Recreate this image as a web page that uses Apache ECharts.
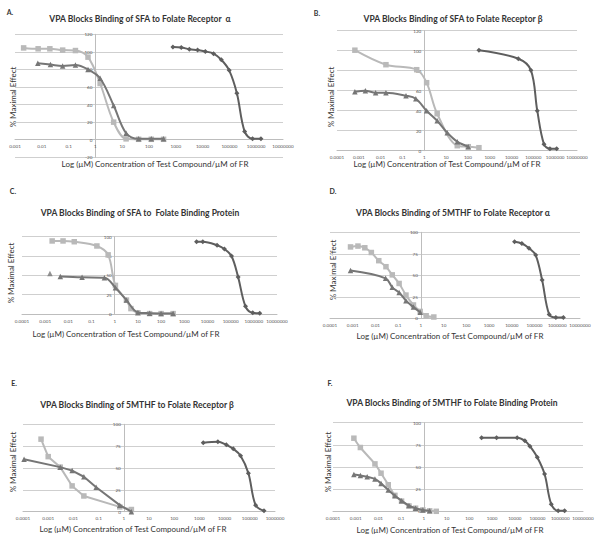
<!DOCTYPE html>
<html><head><meta charset="utf-8">
<script src="https://cdn.jsdelivr.net/npm/echarts@6/dist/echarts.min.js"></script>
<style>html,body{margin:0;padding:0;background:#fff}#c{width:600px;height:538px}</style>
</head><body><div id="c"></div>
<script>
// ---------- DATA ----------
// Panel A
const aSquareX = [0.0021, 0.0073, 0.02, 0.06, 0.18, 0.53, 1.5, 4.8, 14, 41, 122, 350];
const aSquareY = [104.5, 103.5, 103.5, 102, 101.5, 94, 64, 20, 1, 0.5, 0.5, 0.5];
const aTriX = [0.0071, 0.021, 0.06, 0.18, 0.53, 1.5, 4.8, 14, 41, 122, 350];
const aTriY = [87, 85.5, 84, 85, 80, 70, 39, 7.5, 1, 1, 1];
const aDiaX = [780, 1600, 3200, 6500, 12600, 25700, 50000, 98000, 190000, 370000, 730000, 1500000];
const aDiaY = [105.5, 105, 103, 102, 100.5, 98, 91, 79, 53, 9.5, 1, 1];
// Panel B
const bSquareX = [0.00066, 0.0175, 0.45, 1.28, 3.9, 32.5, 104, 320];
const bSquareY = [100.5, 86, 81, 68, 37, 5, 4, 3];
const bTriX = [0.00066, 0.002, 0.0059, 0.0175, 0.145, 0.41, 1.28, 3.9, 11.3, 32.5, 104];
const bTriY = [59, 60, 58, 58, 55, 52, 40, 30, 18, 9, 4];
const bDiaX = [320, 20400, 77000, 151000, 307000, 575000, 1170000];
const bDiaY = [100.5, 92, 80.5, 40, 6.5, 2, 2];
// Panel C
const cSquareX = [0.002, 0.0059, 0.018, 0.17, 0.52, 1.07, 3.2, 5, 10, 32, 100, 330];
const cSquareY = [94.5, 94.5, 93.5, 88, 76.5, 37, 18, 7, 1.5, 0.5, 0.5, 0.5];
const cTriLoneX = [0.0016];
const cTriLoneY = [52.5];
const cTriX = [0.0045, 0.039, 0.36, 1.07, 3.2, 10, 32, 100, 330];
const cTriY = [48.5, 47.5, 47, 34, 18, 2, 1, 0.5, 0.5];
const cDiaX = [3400, 6300, 26000, 54000, 109000, 210000, 437000, 900000, 1800000];
const cDiaY = [93.5, 93.5, 89, 84, 75, 48, 10, 1.5, 1];
// Panel D
const dSquareX = [0.0008, 0.0017, 0.0034, 0.0066, 0.014, 0.029, 0.055, 0.11, 0.22, 0.47, 0.93, 1.7, 3.7];
const dSquareY = [83, 84, 82, 76.5, 67, 60, 50.5, 40.5, 27, 15.5, 8, 3, 1.5];
const dTriX = [0.0008, 0.028, 0.055, 0.11, 0.22, 0.47, 0.93];
const dTriY = [55.5, 46.5, 36, 30, 20.5, 13, 7];
const dDiaX = [13200, 27700, 57000, 112000, 215000, 440000, 870000, 1860000];
const dDiaY = [89, 87, 81.5, 73.5, 44.5, 4.5, 1, 1];
// Panel E
const eSquareX = [0.00052, 0.001, 0.003, 0.0089, 0.026, 0.69, 2.0];
const eSquareY = [83, 63, 51, 29.5, 18, 5.5, 2.5];
const eTriX = [0.00011, 0.003, 0.0089, 0.026, 0.08, 0.69, 2.0];
const eTriY = [60, 51, 47, 40, 28, 7.5, 0];
const eDiaX = [1420, 5400, 11700, 22000, 43000, 88000, 170000, 366000];
const eDiaY = [79, 80, 76.5, 72, 64, 44, 7.5, 1];
// Panel F
const fSquareX = [0.00083, 0.0016, 0.007, 0.013, 0.027, 0.053, 0.104, 0.22, 0.43, 0.9, 1.8, 3.5];
const fSquareY = [82.5, 72, 53.5, 43, 30, 18, 11.5, 6, 3.5, 1.5, 0.5, 0];
const fTriX = [0.00083, 0.0016, 0.0032, 0.007, 0.013, 0.027, 0.053, 0.104, 0.22, 0.43, 0.9, 1.8];
const fTriY = [41.5, 40.5, 39, 36.5, 31.5, 24, 17.5, 12, 6.5, 3.5, 1.5, 0.5];
const fDiaX = [345, 1570, 12700, 27700, 46000, 97000, 204000, 400000, 810000, 1550000];
const fDiaY = [83, 83, 83, 79.5, 73.5, 61, 42, 8, 0.5, 0.5];

// Axis ranges / ticks
const xRanges = [[0.001, 1e7], [0.0001, 1e7], [0.0001, 1e7], [0.0001, 1e7], [0.0001, 1e6], [0.0001, 1e7]];
const yRanges = [[-20, 120, 20], [0, 120, 20], [0, 100, 25], [0, 100, 25], [0, 100, 25], [0, 100, 25]];
const titles = [
  'VPA Blocks Binding of SFA to Folate Receptor  \u03b1',
  'VPA Blocks Binding of SFA to Folate Receptor \u03b2',
  'VPA Blocks Binding of SFA to  Folate Binding Protein',
  'VPA Blocks Binding of 5MTHF to Folate Receptor \u03b1',
  'VPA Blocks Binding of 5MTHF to Folate Receptor \u03b2',
  'VPA Blocks Binding of 5MTHF to Folate Binding Protein'
];
const letters = ['A.', 'B.', 'C.', 'D.', 'E.', 'F.'];
const xName = 'Log (\u00b5M) Concentration of Test Compound/\u00b5M of FR';
const yName = '% Maximal Effect';

const panelData = [
  {sq: [aSquareX, aSquareY], tri: [aTriX, aTriY], dia: [aDiaX, aDiaY]},
  {sq: [bSquareX, bSquareY], tri: [bTriX, bTriY], dia: [bDiaX, bDiaY]},
  {sq: [cSquareX, cSquareY], tri: [cTriX, cTriY], dia: [cDiaX, cDiaY], lone: [cTriLoneX, cTriLoneY]},
  {sq: [dSquareX, dSquareY], tri: [dTriX, dTriY], dia: [dDiaX, dDiaY]},
  {sq: [eSquareX, eSquareY], tri: [eTriX, eTriY], dia: [eDiaX, eDiaY], straight: true},
  {sq: [fSquareX, fSquareY], tri: [fTriX, fTriY], dia: [fDiaX, fDiaY]}
];

// ---------- LAYOUT ----------
const layout = [
  {grid: [15, 34.3, 268, 123], letter: [10, 12], title: [140, 18.5], xn: [155, 164], yn: [12.5, 97]},
  {grid: [337, 30.7, 240, 120], letter: [317, 13], title: [453, 19], xn: [447, 164], yn: [331, 97]},
  {grid: [22, 236.7, 255, 77.3], letter: [13, 191], title: [140, 213.3], xn: [126, 334], yn: [11, 273]},
  {grid: [330, 232.3, 250, 86], letter: [333, 191], title: [453, 213.3], xn: [450, 336], yn: [333, 270]},
  {grid: [23, 424.3, 252, 87.4], letter: [14, 383], title: [137, 405], xn: [133, 529], yn: [13, 462]},
  {grid: [333, 422.7, 250, 88.6], letter: [330, 383], title: [452, 403], xn: [450, 530], yn: [328, 462]}
];

const FONT = 'Lato, "Open Sans", sans-serif';
const cSquare = '#b9b9b9', cTri = '#767676', cDia = '#5e5e5e';

function fmt(v) {
  if (v >= 1) return String(Math.round(v));
  return String(parseFloat(v.toPrecision(1)));
}
function pairs(xs, ys) { return xs.map((x, i) => [x, ys[i]]); }

const grids = [], xAxes = [], yAxes = [], series = [], graphics = [];
layout.forEach((L, i) => {
  const [gl, gt, gw, gh] = L.grid;
  grids.push({left: gl, top: gt, width: gw, height: gh});
  const [xmin, xmax] = xRanges[i];
  const [ymin, ymax, yint] = yRanges[i];
  const fracX = -Math.log10(xmin) / (Math.log10(xmax) - Math.log10(xmin));
  const fracY = (0 - ymin) / (ymax - ymin);
  xAxes.push({
    type: 'log', logBase: 10, gridIndex: i, min: xmin, max: xmax, interval: 1,
    position: 'bottom', offset: -gh * fracY,
    axisLine: {onZero: false, lineStyle: {color: '#bdbdbd', width: 1}},
    axisTick: {show: false},
    splitLine: {show: false},
    axisLabel: {fontSize: 4.6, color: '#555', margin: 4, interval: 0, fontFamily: FONT,
      showMinLabel: true, showMaxLabel: true, formatter: fmt}
  });
  yAxes.push({
    type: 'value', gridIndex: i, min: ymin, max: ymax, interval: yint,
    position: 'left', offset: -gw * fracX,
    axisLine: {show: true, onZero: false, lineStyle: {color: '#bdbdbd', width: 1}},
    axisTick: {show: false},
    splitLine: {show: true, lineStyle: {color: '#cfcfcf', width: 1}},
    axisLabel: {fontSize: 4.6, color: '#555', margin: 3, fontFamily: FONT}
  });
  const P = panelData[i];
  const sm = P.straight ? 0 : 0.35;
  series.push({type: 'line', xAxisIndex: i, yAxisIndex: i, data: pairs(P.sq[0], P.sq[1]),
    smooth: sm, symbol: 'rect', symbolSize: 5.5, itemStyle: {color: cSquare},
    lineStyle: {color: cSquare, width: 2}, z: 2});
  series.push({type: 'line', xAxisIndex: i, yAxisIndex: i, data: pairs(P.tri[0], P.tri[1]),
    smooth: sm, symbol: 'triangle', symbolSize: 5.5, itemStyle: {color: cTri},
    lineStyle: {color: cTri, width: 2}, z: 3});
  if (P.lone) {
    series.push({type: 'scatter', xAxisIndex: i, yAxisIndex: i, data: pairs(P.lone[0], P.lone[1]),
      symbol: 'triangle', symbolSize: 5.5, itemStyle: {color: cTri}, z: 3});
  }
  series.push({type: 'line', xAxisIndex: i, yAxisIndex: i, data: pairs(P.dia[0], P.dia[1]),
    smooth: 0.35, symbol: 'diamond', symbolSize: 5, itemStyle: {color: cDia},
    lineStyle: {color: cDia, width: 2}, z: 4});

  graphics.push({type: 'text', x: L.letter[0], y: L.letter[1],
    style: {text: letters[i], font: 'bold 7px ' + FONT, fill: '#333', textAlign: 'center', textVerticalAlign: 'middle'}});
  graphics.push({type: 'text', x: L.title[0], y: L.title[1],
    style: {text: titles[i], font: 'bold 8.5px ' + FONT, fill: '#333', textAlign: 'center', textVerticalAlign: 'middle'}});
  graphics.push({type: 'text', x: L.xn[0], y: L.xn[1],
    style: {text: xName, font: '8px ' + FONT, fill: '#333', textAlign: 'center', textVerticalAlign: 'middle'}});
  graphics.push({type: 'text', x: L.yn[0], y: L.yn[1], rotation: Math.PI / 2,
    style: {text: yName, font: '8px ' + FONT, fill: '#333', textAlign: 'center', textVerticalAlign: 'middle'}});
});

const chart = echarts.init(document.getElementById('c'), null, {renderer: 'svg'});
chart.setOption({
  animation: false,
  backgroundColor: '#fff',
  grid: grids, xAxis: xAxes, yAxis: yAxes, series: series,
  graphic: graphics
});
</script></body></html>
